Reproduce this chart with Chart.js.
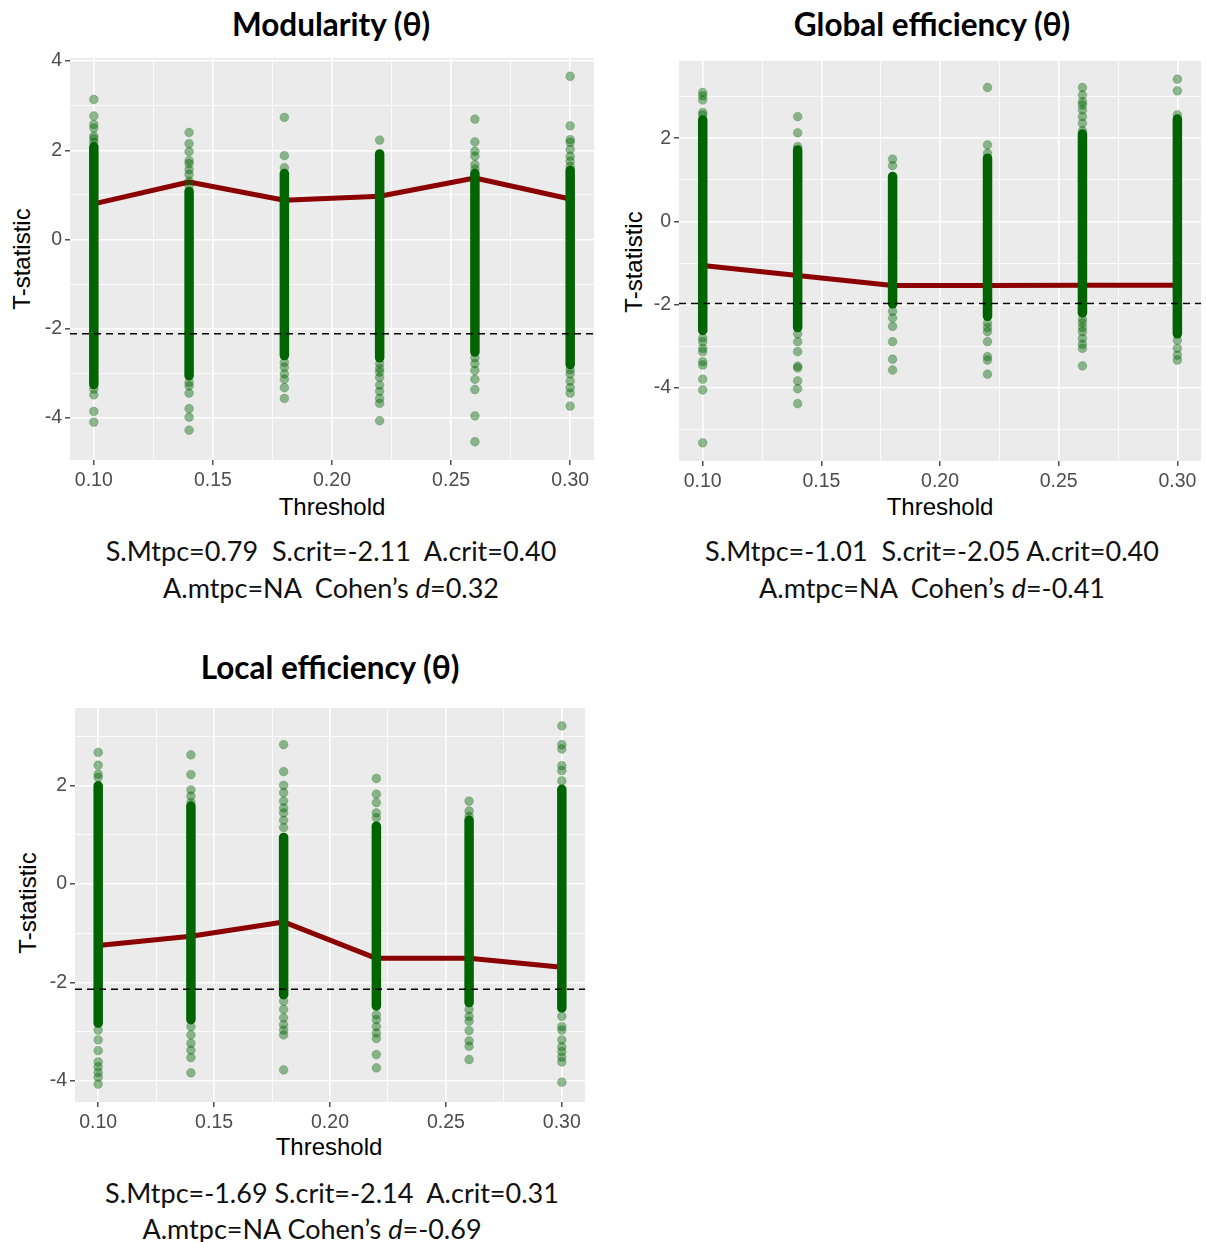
<!DOCTYPE html>
<html>
<head>
<meta charset="utf-8">
<script src="https://cdn.jsdelivr.net/npm/chart.js@4.4.0/dist/chart.umd.min.js"></script>
<style>
  body { margin:0; background:#fff; width:1206px; height:1242px; position:relative; overflow:hidden; }
  .cv { position:absolute; }
  .title { position:absolute; transform:translate(-50%,-50%); font-family:Lato,"Open Sans",sans-serif; font-weight:bold; font-size:31.5px; white-space:nowrap; color:#000; line-height:1; }
  .stat { position:absolute; transform:translate(-50%,-50%); font-family:Lato,"Open Sans",sans-serif; font-size:27px; white-space:pre; color:#111; line-height:1; }
  .xt { position:absolute; transform:translate(-50%,-50%); font-family:"Liberation Sans",Arial,sans-serif; font-size:24px; color:#000; white-space:nowrap; line-height:1; }
  .yt { position:absolute; transform:translate(-50%,-50%) rotate(-90deg); font-family:"Liberation Sans",Arial,sans-serif; font-size:24px; color:#000; white-space:nowrap; line-height:1; }
</style>
</head>
<body>
<div class="title" style="left:331px;top:25px">Modularity (θ)</div>
<div class="title" style="left:932px;top:25px">Global efficiency (θ)</div>
<div class="title" style="left:330px;top:668px">Local efficiency (θ)</div>

<div class="yt" style="left:22px;top:259px">T-statistic</div>
<div class="yt" style="left:634px;top:262px">T-statistic</div>
<div class="yt" style="left:28px;top:903px">T-statistic</div>

<div class="xt" style="left:332px;top:507px">Threshold</div>
<div class="xt" style="left:940px;top:507px">Threshold</div>
<div class="xt" style="left:329px;top:1147px">Threshold</div>

<div class="stat" style="left:331px;top:550px">S.Mtpc=0.79  S.crit=-2.11  A.crit=0.40</div>
<div class="stat" style="left:331px;top:587px">A.mtpc=NA  Cohen’s <i>d</i>=0.32</div>
<div class="stat" style="left:932px;top:550px">S.Mtpc=-1.01  S.crit=-2.05 A.crit=0.40</div>
<div class="stat" style="left:932px;top:587px">A.mtpc=NA  Cohen’s <i>d</i>=-0.41</div>
<div class="stat" style="left:332px;top:1192px">S.Mtpc=-1.69 S.crit=-2.14  A.crit=0.31</div>
<div class="stat" style="left:312px;top:1228px">A.mtpc=NA Cohen’s <i>d</i>=-0.69</div>

<canvas id="c1" class="cv" width="604" height="480" style="left:0px;top:40px"></canvas>
<canvas id="c2" class="cv" width="602" height="480" style="left:604px;top:40px"></canvas>
<canvas id="c3" class="cv" width="604" height="480" style="left:0px;top:680px"></canvas>

<script>
// ---------- DATA ----------
const thresholds = [0.10, 0.14, 0.18, 0.22, 0.26, 0.30];
const xTickLabels = ["0.10", "0.15", "0.20", "0.25", "0.30"];

// Modularity
const modMean = [0.80, 1.29, 0.88, 0.97, 1.38, 0.91];
const modCrit = -2.11;
const modDenseHigh = [2.08, 1.08, 1.48, 1.92, 1.48, 1.55];
const modDenseLow = [-3.25, -3.05, -2.60, -2.65, -2.52, -2.80];
const modOutliers = [
  [3.14, 2.77, 2.58, 2.50, 2.32, 2.26, 2.18, -3.35, -3.48, -3.85, -4.09],
  [2.40, 2.15, 1.97, 1.77, 1.70, 1.57, 1.46, 1.31, 1.20, -3.20, -3.28, -3.44, -3.79, -3.98, -4.27],
  [2.74, 1.88, 1.61, -2.75, -2.86, -3.01, -3.13, -3.32, -3.56],
  [2.23, -2.78, -2.89, -2.97, -3.09, -3.26, -3.40, -3.56, -3.67, -4.06],
  [2.70, 2.19, 1.98, 1.87, 1.68, 1.58, -2.65, -2.78, -2.93, -3.13, -3.36, -3.95, -4.53],
  [3.66, 2.55, 2.24, 2.18, 2.02, 1.87, 1.76, 1.64, -2.92, -3.01, -3.17, -3.32, -3.44, -3.73]
];

// Global efficiency
const geMean = [-1.06, -1.30, -1.54, -1.54, -1.53, -1.53];
const geCrit = -1.97;
const geDenseHigh = [2.44, 1.72, 1.08, 1.52, 2.10, 2.46];
const geDenseLow = [-2.62, -2.55, -1.98, -2.28, -2.20, -2.70];
const geOutliers = [
  [3.10, 3.02, 2.92, 2.62, 2.56, -2.80, -2.89, -3.05, -3.13, -3.37, -3.45, -3.79, -4.05, -5.32],
  [2.52, 2.13, 1.80, -2.70, -2.89, -3.13, -3.48, -3.52, -3.83, -4.02, -4.38],
  [1.50, 1.34, -2.16, -2.32, -2.52, -2.89, -3.31, -3.57],
  [3.22, 1.84, 1.64, -2.44, -2.55, -2.65, -2.89, -3.25, -3.33, -3.67],
  [3.22, 3.04, 2.88, 2.80, 2.68, 2.52, 2.36, 2.18, -2.35, -2.44, -2.55, -2.65, -2.81, -2.95, -3.05, -3.47],
  [3.42, 3.14, 2.56, -2.85, -3.05, -3.21, -3.33]
];

// Local efficiency
const leMean = [-1.25, -1.06, -0.77, -1.51, -1.51, -1.69];
const leCrit = -2.14;
const leDenseHigh = [2.00, 1.59, 0.95, 1.18, 1.30, 1.93];
const leDenseLow = [-2.83, -2.76, -2.25, -2.48, -2.41, -2.52];
const leOutliers = [
  [2.68, 2.42, 2.24, 2.17, -2.97, -3.17, -3.39, -3.62, -3.72, -3.83, -3.93, -4.07],
  [2.63, 2.23, 1.92, 1.79, 1.66, -2.90, -3.07, -3.24, -3.38, -3.53, -3.84],
  [2.84, 2.29, 2.01, 1.86, 1.69, 1.55, 1.45, 1.30, 1.15, -2.38, -2.55, -2.72, -2.86, -2.97, -3.07, -3.78],
  [2.15, 1.83, 1.66, 1.45, 1.35, -2.66, -2.76, -2.90, -3.03, -3.14, -3.47, -3.74],
  [1.69, 1.49, 1.38, -2.55, -2.69, -2.79, -2.98, -3.19, -3.30, -3.57],
  [3.22, 2.84, 2.75, 2.41, 2.31, 2.10, -2.69, -2.90, -2.97, -3.17, -3.31, -3.41, -3.52, -3.62, -4.03]
];

// ---------- RENDER ----------
Chart.defaults.font.family = '"Liberation Sans", Arial, sans-serif';
Chart.defaults.animation = false;

const PANEL_BG = '#EBEBEB';
const GREEN = '#006400';
const GREEN_A = 'rgba(0,100,0,0.42)';
const RED = '#8B0000';

function makePanel(id, mean, crit, lo, hi, outliers, geom) {
  const allY = [].concat(mean, lo, hi, ...outliers, [crit]);
  const dMin = Math.min(...allY), dMax = Math.max(...allY);
  const yMin = dMin - 0.05 * (dMax - dMin), yMax = dMax + 0.05 * (dMax - dMin);
  const xLo = Math.min(...thresholds), xHi = Math.max(...thresholds);
  const xMin = xLo - 0.05 * (xHi - xLo), xMax = xHi + 0.05 * (xHi - xLo);

  const xMajor = xTickLabels.map(Number);
  const xAll = [];
  xMajor.forEach((v, i) => { xAll.push(v); if (i < xMajor.length - 1) xAll.push((v + xMajor[i + 1]) / 2); });
  const yAll = [];
  for (let v = Math.ceil(yMin); v <= Math.floor(yMax); v++) yAll.push(v);

  const datasets = [];
  const pts = [];
  thresholds.forEach((t, i) => outliers[i].forEach(v => pts.push({ x: t, y: v })));
  datasets.push({
    type: 'scatter', data: pts, order: 0,
    pointRadius: 4.4, pointBackgroundColor: GREEN_A, pointBorderColor: GREEN_A, pointBorderWidth: 0.5
  });
  thresholds.forEach((t, i) => {
    datasets.push({
      type: 'line', data: [{ x: t, y: lo[i] }, { x: t, y: hi[i] }], order: 1,
      borderColor: GREEN, borderWidth: 9.5, borderCapStyle: 'round', pointRadius: 0
    });
  });
  datasets.push({
    type: 'line', data: thresholds.map((t, i) => ({ x: t, y: mean[i] })), order: 2,
    borderColor: RED, borderWidth: 5, pointRadius: 0, borderJoinStyle: 'round'
  });

  const isXMajor = v => xMajor.some(m => Math.abs(m - v) < 1e-9);
  const isYMajor = v => Math.abs(v % 2) < 1e-9;

  new Chart(document.getElementById(id), {
    data: { datasets },
    options: {
      responsive: false,
      layout: { padding: { top: geom.top, right: geom.right, left: 0, bottom: 0 } },
      plugins: { legend: { display: false }, tooltip: { enabled: false } },
      scales: {
        x: {
          type: 'linear', min: xMin, max: xMax,
          afterBuildTicks: s => { s.ticks = xAll.map(v => ({ value: v })); },
          afterFit: s => { s.height = geom.xh; s.paddingLeft = 0; s.paddingRight = 0; },
          border: { display: false },
          grid: {
            color: '#FFFFFF',
            lineWidth: c => (c.tick && isXMajor(c.tick.value)) ? 1.6 : 0.8,
            tickColor: c => (c.tick && isXMajor(c.tick.value)) ? '#333333' : 'rgba(0,0,0,0)',
            tickLength: 5, tickWidth: 1.3
          },
          ticks: {
            autoSkip: false, maxRotation: 0, padding: 4, color: '#4D4D4D', font: { size: 19.5 },
            callback: v => { const i = xMajor.findIndex(m => Math.abs(m - v) < 1e-9); return i >= 0 ? xTickLabels[i] : ''; }
          }
        },
        y: {
          type: 'linear', min: yMin, max: yMax,
          afterBuildTicks: s => { s.ticks = yAll.map(v => ({ value: v })); },
          afterFit: s => { s.width = geom.yw; s.paddingTop = 0; s.paddingBottom = 0; },
          border: { display: false },
          grid: {
            color: '#FFFFFF',
            lineWidth: c => (c.tick && isYMajor(c.tick.value)) ? 1.6 : 0.8,
            tickColor: c => (c.tick && isYMajor(c.tick.value)) ? '#333333' : 'rgba(0,0,0,0)',
            tickLength: 5, tickWidth: 1.3
          },
          ticks: {
            autoSkip: false, padding: 3, color: '#4D4D4D', font: { size: 19.5 },
            callback: v => isYMajor(v) ? String(v) : ''
          }
        }
      }
    },
    plugins: [{
      id: 'bg',
      beforeDraw(chart) {
        const a = chart.chartArea, ctx = chart.ctx;
        ctx.save(); ctx.fillStyle = PANEL_BG; ctx.fillRect(a.left, a.top, a.right - a.left, a.bottom - a.top); ctx.restore();
      },
      afterDatasetsDraw(chart) {
        const a = chart.chartArea, ctx = chart.ctx;
        const y = chart.scales.y.getPixelForValue(crit);
        ctx.save(); ctx.beginPath(); ctx.setLineDash([7, 5]); ctx.strokeStyle = '#000'; ctx.lineWidth = 1.6;
        ctx.moveTo(a.left, y); ctx.lineTo(a.right, y); ctx.stroke(); ctx.restore();
      }
    }]
  });
}

makePanel('c1', modMean, modCrit, modDenseLow, modDenseHigh, modOutliers, { top: 18, right: 10, yw: 70, xh: 60 });
makePanel('c2', geMean, geCrit, geDenseLow, geDenseHigh, geOutliers, { top: 21, right: 0, yw: 75, xh: 59 });
makePanel('c3', leMean, leCrit, leDenseLow, leDenseHigh, leOutliers, { top: 28, right: 19, yw: 75, xh: 58 });
</script>
</body>
</html>
